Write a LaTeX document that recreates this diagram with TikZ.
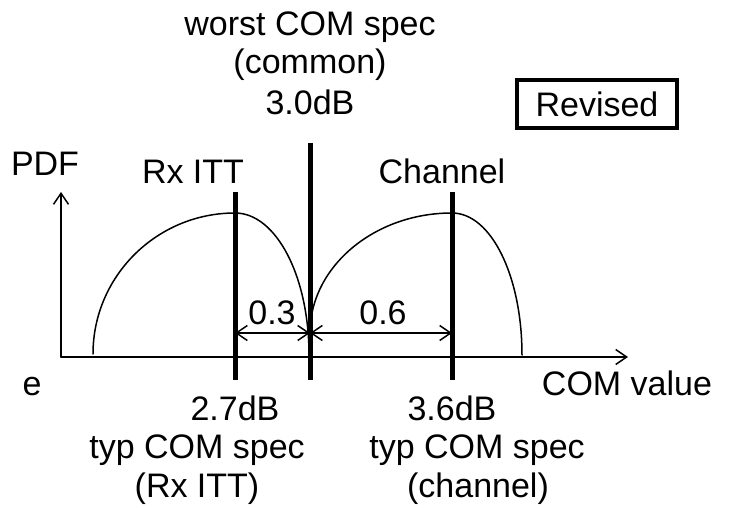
\documentclass[tikz,border=0pt]{standalone}
\usepackage{fontspec}
\setmainfont{Liberation Sans}
\usetikzlibrary{arrows.meta,positioning}
\tikzset{>={Straight Barb[length=11pt,width=15pt]}}
\tikzset{lbl/.style={inner sep=0pt,anchor=base,font=\fontsize{34}{38}\selectfont},
  marker/.style={line width=5pt,line cap=butt},
  curve/.style={line width=1.5pt}}

\begin{document}
\begin{tikzpicture}[x=1pt,y=-1pt,line cap=round]
\useasboundingbox (0,0) rectangle (729,508);

  % axes
  \coordinate (o) at (61,357);
  \coordinate (ytop) at (61,192);
  \coordinate (xend) at (628,357);
  \draw [curve,->] (o) -- (ytop);
  \draw [curve,->] (o) -- (xend);

  % the two pdf curves
  \draw [curve] (93,354) .. controls (93,276) and (157,213) .. (235,213)
    .. controls (276,213) and (309,276) .. (309,355);
  \draw [curve] (310,333) .. controls (310,267) and (374,213) .. (452,213)
    .. controls (491,213) and (522,276) .. (522,355);

  % spec lines
  \coordinate (rxtop) at (235,192);
  \coordinate (rxbot) at (235,380);
  \coordinate (wtop) at (310,143);
  \coordinate (wbot) at (310,380);
  \coordinate (chtop) at (452,192);
  \coordinate (chbot) at (452,380);
  \draw [marker] (rxtop) -- (rxbot);
  \draw [marker] (wtop) -- (wbot);
  \draw [marker] (chtop) -- (chbot);

  \coordinate (a1) at (235,333);
  \coordinate (a2) at (310,333);
  \coordinate (a3) at (452,333);
  \draw [curve,<->] (a1) -- (a2);
  \draw [curve,<->] (a2) -- (a3);
  \node [lbl] (d03) at (272,324) {0.3};
  \node [lbl] (d06) at (383,324) {0.6};

  % top texts
  \node [lbl] (worst) at (310,36) {worst COM spec};
  \node [lbl] (common) at (310,74) {(common)};
  \node [lbl] (w30) at (310,115) {3.0dB};
  \node [draw,line width=3.5pt,inner sep=0pt,minimum width=160pt,minimum height=48pt,
    font=\fontsize{34}{38}\selectfont] (revised) at (597,104) {Revised};

  \node [lbl] (pdf) at (45,176) {PDF};
  \node [lbl] (rxitt) at (193,184) {Rx ITT};
  \node [lbl] (channel) at (442,184) {Channel};

  % bottom texts
  \node [lbl] (cute) at (32,395) {e};
  \node [lbl] (comval) at (627,395) {COM value};
  \node [lbl] (rx27) at (235,420) {2.7dB};
  \node [lbl] (ch36) at (452,420) {3.6dB};
  \node [lbl] (rxtyp) at (197,458) {typ COM spec};
  \node [lbl] (chtyp) at (477,458) {typ COM spec};
  \node [lbl] (rxname) at (197,497) {(Rx ITT)};
  \node [lbl] (chname) at (478,497) {(channel)};

\end{tikzpicture}
\end{document}
